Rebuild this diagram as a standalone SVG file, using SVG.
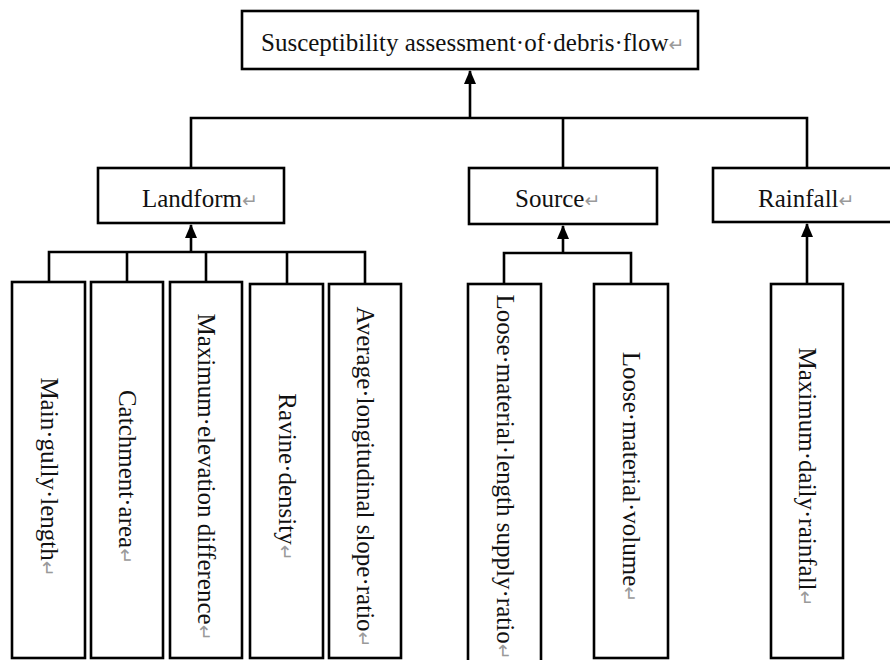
<svg xmlns="http://www.w3.org/2000/svg" width="890" height="660" viewBox="0 0 890 660">
<style>
.box{fill:#fff;stroke:#000;stroke-width:2.6}
.ln{fill:none;stroke:#000;stroke-width:2.6}
.t{font-family:"Liberation Serif","Times New Roman",serif;font-size:25px;fill:#111}
.ret{font-family:"DejaVu Sans",sans-serif;font-size:19px;fill:#9a9a9a}
</style>
<defs>
<marker id="ah" markerUnits="userSpaceOnUse" markerWidth="14" markerHeight="12" refX="13" refY="6" orient="auto">
<path d="M0,0 L14,6 L0,12 z" fill="#000"/>
</marker>
</defs>
<rect width="890" height="660" fill="#fff"/>
<g id="connectors">
<line class="ln" x1="470" y1="118" x2="470" y2="71" marker-end="url(#ah)"/>
<polyline class="ln" points="191,168 191,118 807,118 807,168"/>
<line class="ln" x1="563" y1="118" x2="563" y2="168"/>
<line class="ln" x1="191" y1="252" x2="191" y2="225" marker-end="url(#ah)"/>
<polyline class="ln" points="49,283 49,252 365,252 365,284"/>
<line class="ln" x1="127" y1="252" x2="127" y2="282"/>
<line class="ln" x1="206" y1="252" x2="206" y2="282"/>
<line class="ln" x1="287" y1="252" x2="287" y2="284"/>
<line class="ln" x1="563" y1="253" x2="563" y2="226" marker-end="url(#ah)"/>
<polyline class="ln" points="504,284 504,253 631,253 631,284"/>
<line class="ln" x1="807" y1="284" x2="807" y2="224" marker-end="url(#ah)"/>
</g>
<g id="n-root">
<rect class="box" x="242" y="11" width="456" height="58"/>
<text class="t" x="261" y="51">Susceptibility assessment·of·debris·flow<tspan class="ret">↵</tspan></text>
</g>
<g id="n-landform">
<rect class="box" x="98" y="168" width="186" height="55"/>
<text class="t" x="142" y="207">Landform<tspan class="ret">↵</tspan></text>
</g>
<g id="n-source">
<rect class="box" x="469" y="168" width="188" height="56"/>
<text class="t" x="515" y="207">Source<tspan class="ret">↵</tspan></text>
</g>
<g id="n-rainfall">
<rect class="box" x="713" y="168" width="188" height="54"/>
<text class="t" x="758" y="207">Rainfall<tspan class="ret">↵</tspan></text>
</g>
<g id="n-main-gully">
<rect class="box" x="12" y="282" width="73" height="376"/>
<text class="t" text-anchor="middle" transform="translate(40.5,477) rotate(90)">Main·gully·length<tspan class="ret">↵</tspan></text>
</g>
<g id="n-catchment">
<rect class="box" x="91" y="282" width="72" height="376"/>
<text class="t" text-anchor="middle" transform="translate(119,477) rotate(90)">Catchment·area<tspan class="ret">↵</tspan></text>
</g>
<g id="n-max-elev">
<rect class="box" x="170" y="282" width="72" height="376"/>
<text class="t" text-anchor="middle" transform="translate(198,477) rotate(90)">Maximum·elevation difference<tspan class="ret">↵</tspan></text>
</g>
<g id="n-ravine">
<rect class="box" x="250" y="284" width="73" height="374"/>
<text class="t" text-anchor="middle" transform="translate(278.5,477) rotate(90)">Ravine·density<tspan class="ret">↵</tspan></text>
</g>
<g id="n-slope">
<rect class="box" x="329" y="284" width="72" height="374"/>
<text class="t" text-anchor="middle" transform="translate(357,477) rotate(90)">Average·longitudinal slope·ratio<tspan class="ret">↵</tspan></text>
</g>
<g id="n-loose-length">
<rect class="box" x="468" y="284" width="73" height="386"/>
<text class="t" text-anchor="middle" transform="translate(496.5,477) rotate(90)">Loose·material·length supply·ratio<tspan class="ret">↵</tspan></text>
</g>
<g id="n-loose-volume">
<rect class="box" x="594" y="284" width="74" height="374"/>
<text class="t" text-anchor="middle" transform="translate(623,477) rotate(90)">Loose·material·volume<tspan class="ret">↵</tspan></text>
</g>
<g id="n-max-rain">
<rect class="box" x="771" y="284" width="72" height="374"/>
<text class="t" text-anchor="middle" transform="translate(799,477) rotate(90)">Maximum·daily·rainfall<tspan class="ret">↵</tspan></text>
</g>
</svg>
